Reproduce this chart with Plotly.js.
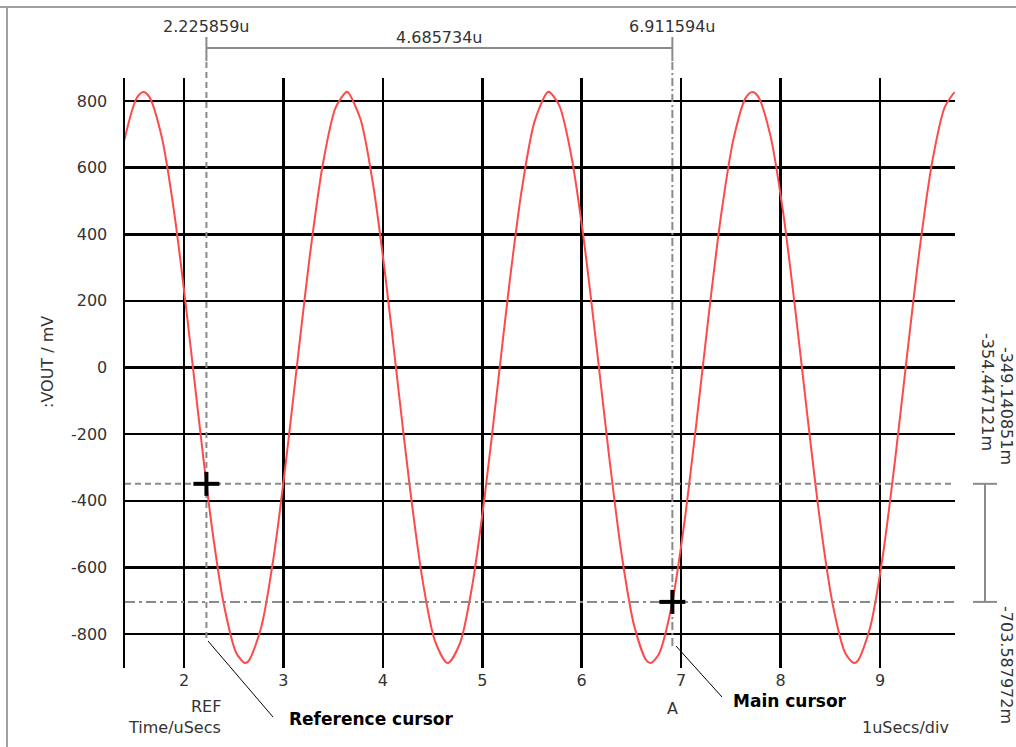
<!DOCTYPE html>
<html>
<head>
<meta charset="utf-8">
<script src="https://cdn.plot.ly/plotly-3.0.1.min.js"></script>
<style>
  html, body { margin: 0; padding: 0; background: #ffffff; }
  #chart { width: 1016px; height: 747px; }
</style>
</head>
<body>
<div id="chart"></div>
<script>
// ---- data ----
const timeUs = [1.40, 1.525, 1.592, 1.65, 1.775, 1.90, 2.025, 2.15, 2.275, 2.40, 2.525, 2.612, 2.65, 2.775, 2.90, 3.025, 3.15, 3.275, 3.40, 3.525, 3.633, 3.65, 3.775, 3.90, 4.025, 4.15, 4.275, 4.40, 4.525, 4.653, 4.775, 4.90, 5.025, 5.15, 5.275, 5.40, 5.525, 5.65, 5.674, 5.775, 5.90, 6.025, 6.15, 6.275, 6.40, 6.525, 6.65, 6.695, 6.775, 6.90, 7.025, 7.15, 7.275, 7.40, 7.525, 7.65, 7.716, 7.775, 7.90, 8.025, 8.15, 8.275, 8.40, 8.525, 8.65, 8.736, 8.775, 8.90, 9.025, 9.15, 9.275, 9.40, 9.525, 9.65, 9.75];
const voutMv = [682, 809, 827, 813, 694, 469, 171, -156, -466, -710, -856, -887, -881, -782, -573, -284, 42, 357, 616, 780, 827, 826, 746, 553, 276, -48, -368, -639, -821, -887, -828, -653, -385, -67, 257, 539, 738, 825, 827, 786, 628, 374, 61, -265, -558, -772, -879, -887, -861, -722, -482, -175, 152, 454, 684, 810, 827, 813, 693, 467, 168, -159, -468, -712, -857, -887, -881, -781, -571, -281, 45, 359, 618, 781, 827];

const cursorX = [2.225859, 6.911594];
const cursorY = [-349.140851, -703.587972];
const cursorXLabels = ['2.225859u', '6.911594u'];
const deltaXLabel = '4.685734u';
const cursorYLabels = ['-349.140851m', '-703.587972m'];
const deltaYLabel = '-354.447121m';
const cursorNames = ['REF', 'A'];
const calloutLabels = ['Reference cursor', 'Main cursor'];

const xTicks = [2, 3, 4, 5, 6, 7, 8, 9];
const yTicks = [-800, -600, -400, -200, 0, 200, 400, 600, 800];

const xRange = [1.407, 9.754];
const yRange = [-902, 869];

// ---- layout helpers (pixel -> paper) ----
const L = 125, R = 955, T = 78, B = 668;
const px = p => (p - L) / (R - L);
const py = p => (B - p) / (B - T);

const FONT = 'DejaVu Sans, Verdana, sans-serif';
const txt = '#333333';
const cursorGrey = '#8a8a8a';

const traces = [
  {
    x: timeUs, y: voutMv, type: 'scatter', mode: 'lines',
    line: { color: '#ff4a4a', width: 2, shape: 'spline', smoothing: 0.8 },
    hoverinfo: 'skip', showlegend: false
  }
];

const shapes = [
  // outer frame lines (top, left)
  { type: 'line', xref: 'paper', yref: 'paper', x0: px(0), x1: px(1016), y0: py(7), y1: py(7), line: { color: '#a0a0a0', width: 2 } },
  { type: 'line', xref: 'paper', yref: 'paper', x0: px(7), x1: px(7), y0: py(7), y1: py(747), line: { color: '#a0a0a0', width: 2 } },
  // vertical cursor lines
  { type: 'line', xref: 'x', yref: 'paper', x0: cursorX[0], x1: cursorX[0], y0: py(62), y1: py(640), line: { color: cursorGrey, width: 2, dash: '6px,4px' } },
  { type: 'line', xref: 'x', yref: 'paper', x0: cursorX[1], x1: cursorX[1], y0: py(62), y1: py(647), line: { color: cursorGrey, width: 2, dash: '8px,3px,2px,3px' } },
  // horizontal cursor lines
  { type: 'line', xref: 'paper', yref: 'y', x0: 0, x1: 1, y0: cursorY[0], y1: cursorY[0], line: { color: cursorGrey, width: 2, dash: '6px,4px' } },
  { type: 'line', xref: 'paper', yref: 'y', x0: 0, x1: 1, y0: cursorY[1], y1: cursorY[1], line: { color: cursorGrey, width: 2, dash: '10px,4px,3px,4px' } },
  // top delta bar
  { type: 'line', xref: 'x', yref: 'paper', x0: cursorX[0], x1: cursorX[1], y0: py(48), y1: py(48), line: { color: cursorGrey, width: 2 } },
  { type: 'line', xref: 'x', yref: 'paper', x0: cursorX[0], x1: cursorX[0], y0: py(37), y1: py(61), line: { color: cursorGrey, width: 2 } },
  { type: 'line', xref: 'x', yref: 'paper', x0: cursorX[1], x1: cursorX[1], y0: py(37), y1: py(61), line: { color: cursorGrey, width: 2 } },
  // right delta bar
  { type: 'line', xref: 'paper', yref: 'y', x0: px(985), x1: px(985), y0: cursorY[0], y1: cursorY[1], line: { color: cursorGrey, width: 2 } },
  { type: 'line', xref: 'paper', yref: 'y', x0: px(973), x1: px(997), y0: cursorY[0], y1: cursorY[0], line: { color: cursorGrey, width: 2 } },
  { type: 'line', xref: 'paper', yref: 'y', x0: px(973), x1: px(997), y0: cursorY[1], y1: cursorY[1], line: { color: cursorGrey, width: 2 } },
  // callout leader lines
  { type: 'line', xref: 'paper', yref: 'paper', x0: px(208), x1: px(273), y0: py(641), y1: py(717), line: { color: '#000000', width: 1 } },
  { type: 'line', xref: 'paper', yref: 'paper', x0: px(676), x1: px(722), y0: py(646), y1: py(697), line: { color: '#000000', width: 1 } }
];

// crosshair markers at the cursor points (pixel-sized arms)
cursorX.forEach((cx, i) => {
  shapes.push({ type: 'line', xref: 'x', yref: 'y', xsizemode: 'pixel', xanchor: cx, x0: -13, x1: 13, y0: cursorY[i], y1: cursorY[i], line: { color: '#000000', width: 4 } });
  shapes.push({ type: 'line', xref: 'x', yref: 'y', ysizemode: 'pixel', yanchor: cursorY[i], y0: -12, y1: 12, x0: cx, x1: cx, line: { color: '#000000', width: 4 } });
});

const nf = { family: FONT, size: 16, color: txt };
const bf = { family: FONT, size: 17, color: '#000000', weight: 'bold' };

const ann = (o) => Object.assign({ showarrow: false, font: nf, xanchor: 'center', yanchor: 'middle' }, o);

const annotations = [
  ann({ xref: 'x', yref: 'paper', x: cursorX[0], y: py(27), text: cursorXLabels[0] }),
  ann({ xref: 'x', yref: 'paper', x: cursorX[1], y: py(27), text: cursorXLabels[1] }),
  ann({ xref: 'x', yref: 'paper', x: (cursorX[0] + cursorX[1]) / 2, y: py(38), text: deltaXLabel }),
  ann({ xref: 'paper', yref: 'paper', x: px(1007), y: py(406), text: cursorYLabels[0], textangle: 90 }),
  ann({ xref: 'paper', yref: 'paper', x: px(988), y: py(392), text: deltaYLabel, textangle: 90 }),
  ann({ xref: 'paper', yref: 'paper', x: px(1007), y: py(665), text: cursorYLabels[1], textangle: 90 }),
  ann({ xref: 'paper', yref: 'paper', x: px(47), y: py(362), text: ':VOUT / mV', textangle: -90 }),
  ann({ xref: 'paper', yref: 'paper', x: px(223), y: py(706), text: cursorNames[0], xanchor: 'right' }),
  ann({ xref: 'paper', yref: 'paper', x: px(223), y: py(727), text: 'Time/uSecs', xanchor: 'right' }),
  ann({ xref: 'x', yref: 'paper', x: cursorX[1], y: py(708), text: cursorNames[1] }),
  ann({ xref: 'paper', yref: 'paper', x: px(951), y: py(727), text: '1uSecs/div', xanchor: 'right' }),
  ann({ xref: 'paper', yref: 'paper', x: px(287), y: py(719), text: calloutLabels[0], xanchor: 'left', font: bf }),
  ann({ xref: 'paper', yref: 'paper', x: px(731), y: py(701), text: calloutLabels[1], xanchor: 'left', font: bf })
];

const layout = {
  width: 1016, height: 747,
  margin: { l: L, r: 1016 - R, t: T, b: 747 - B, pad: 0 },
  paper_bgcolor: '#ffffff', plot_bgcolor: '#ffffff',
  showlegend: false,
  font: nf,
  xaxis: {
    range: xRange, tickvals: xTicks, ticktext: xTicks.map(String),
    showgrid: true, gridcolor: '#000000', gridwidth: 2.5,
    zeroline: false, showline: false, ticks: '',
    tickfont: nf, ticklabelstandoff: 1, fixedrange: true
  },
  yaxis: {
    range: yRange, tickvals: yTicks, ticktext: yTicks.map(String),
    showgrid: true, gridcolor: '#000000', gridwidth: 2.5,
    zeroline: false, showline: true, linecolor: '#000000', linewidth: 2.5,
    ticks: '', tickfont: nf, ticklabelstandoff: 12, fixedrange: true
  },
  shapes: shapes,
  annotations: annotations
};

Plotly.newPlot('chart', traces, layout, { staticPlot: true, displayModeBar: false });
</script>
</body>
</html>
